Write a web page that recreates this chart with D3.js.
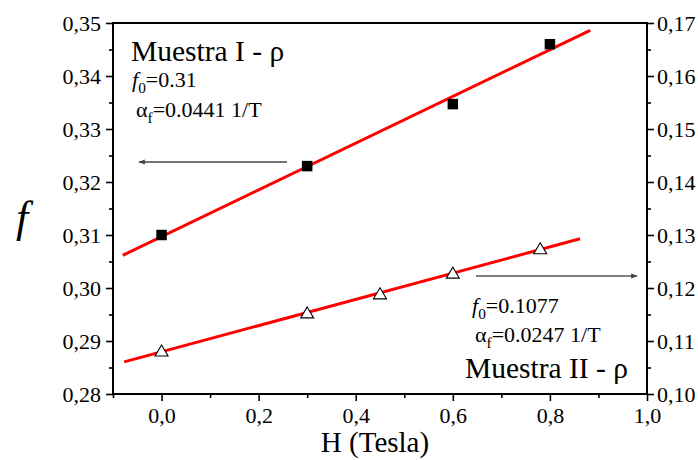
<!DOCTYPE html>
<html><head><meta charset="utf-8">
<script src="https://cdn.jsdelivr.net/npm/d3@7"></script>
<style>body{margin:0;background:#fff}svg{display:block}</style>
</head><body><svg id="c" width="698" height="460"></svg>
<script>
// Data
const H_I = [0, 0.3, 0.6, 0.8];
const f_I = [0.310, 0.323, 0.3347, 0.346];          // left axis (Muestra I)
const H_II = [0, 0.3, 0.45, 0.6, 0.78];
const f_II = [0.1081, 0.1153, 0.1189, 0.1228, 0.1274]; // right axis (Muestra II)
const fitRangeI = [-0.08, 0.883];
const fitRangeII = [-0.077, 0.862];
const xMajor = [0, 0.2, 0.4, 0.6, 0.8, 1.0];
const xMinor = [-0.1, 0.1, 0.3, 0.5, 0.7, 0.9];
const yLeftMajor = [0.28, 0.29, 0.30, 0.31, 0.32, 0.33, 0.34, 0.35];
const yLeftMinor = [0.285, 0.295, 0.305, 0.315, 0.325, 0.335, 0.345];
const yRightMajor = [0.10, 0.11, 0.12, 0.13, 0.14, 0.15, 0.16, 0.17];
const yRightMinor = [0.105, 0.115, 0.125, 0.135, 0.145, 0.155, 0.165];

const FONT = "Liberation Serif, Tinos, serif";
const svg = d3.select("#c").attr("font-family", FONT);
const L = 113, R = 647, T = 23, B = 394;
const x = d3.scaleLinear().domain([-0.1, 1.0]).range([L, R]);
const yL = d3.scaleLinear().domain([0.28, 0.35]).range([B, T]);
const yR = d3.scaleLinear().domain([0.10, 0.17]).range([B, T]);
const comma = (d, p) => d3.format("." + p + "f")(d).replace(".", ",");

function styleAxis(g) {
  g.attr("font-family", FONT).attr("font-size", 22);
  g.selectAll(".domain").remove();
  g.selectAll("line").attr("stroke", "#000").attr("stroke-width", 1.6);
  g.selectAll("text").attr("fill", "#000");
}

// x axis
svg.append("g").attr("transform", `translate(0,${B})`)
  .call(d3.axisBottom(x).tickValues(xMajor).tickSize(7).tickPadding(6).tickFormat(d => comma(d, 1)))
  .call(styleAxis);
svg.append("g").attr("transform", `translate(0,${B})`)
  .call(d3.axisBottom(x).tickValues(xMinor).tickSize(4).tickFormat(""))
  .call(styleAxis);
// left axis
svg.append("g").attr("transform", `translate(${L},0)`)
  .call(d3.axisLeft(yL).tickValues(yLeftMajor).tickSize(7).tickPadding(5).tickFormat(d => comma(d, 2)))
  .call(styleAxis);
svg.append("g").attr("transform", `translate(${L},0)`)
  .call(d3.axisLeft(yL).tickValues(yLeftMinor).tickSize(4).tickFormat(""))
  .call(styleAxis);
// right axis
svg.append("g").attr("transform", `translate(${R},0)`)
  .call(d3.axisRight(yR).tickValues(yRightMajor).tickSize(7).tickPadding(3).tickFormat(d => comma(d, 2)))
  .call(styleAxis);
svg.append("g").attr("transform", `translate(${R},0)`)
  .call(d3.axisRight(yR).tickValues(yRightMinor).tickSize(4).tickFormat(""))
  .call(styleAxis);

// frame
svg.append("rect").attr("x", L).attr("y", T).attr("width", R - L).attr("height", B - T)
  .attr("fill", "none").attr("stroke", "#000").attr("stroke-width", 2);

// linear fits
function fit(xs, ys) {
  const mx = d3.mean(xs), my = d3.mean(ys);
  let sxy = 0, sxx = 0;
  xs.forEach((v, i) => { sxy += (v - mx) * (ys[i] - my); sxx += (v - mx) * (v - mx); });
  const b = sxy / sxx; return { a: my - b * mx, b };
}
const fI = fit(H_I, f_I), fII = fit(H_II, f_II);
const lineL = d3.line().x(d => x(d[0])).y(d => yL(d[1]));
const lineR = d3.line().x(d => x(d[0])).y(d => yR(d[1]));
svg.append("path").attr("d", lineL(fitRangeI.map(h => [h, fI.a + fI.b * h])))
  .attr("stroke", "#ff0000").attr("stroke-width", 3).attr("fill", "none");
svg.append("path").attr("d", lineR(fitRangeII.map(h => [h, fII.a + fII.b * h])))
  .attr("stroke", "#ff0000").attr("stroke-width", 3).attr("fill", "none");

// markers
svg.selectAll(".sq").data(H_I.map((h, i) => [h, f_I[i]])).enter().append("path")
  .attr("transform", d => `translate(${x(d[0])},${yL(d[1])})`)
  .attr("d", d3.symbol(d3.symbolSquare, 110)()).attr("fill", "#000");
svg.selectAll(".tri").data(H_II.map((h, i) => [h, f_II[i]])).enter().append("path")
  .attr("transform", d => `translate(${x(d[0])},${yR(d[1])})`)
  .attr("d", "M0,-6L6.5,5L-6.5,5Z").attr("fill", "#fff").attr("stroke", "#000").attr("stroke-width", 1.1);

// arrows
const defs = svg.append("defs");
defs.append("marker").attr("id", "ah").attr("viewBox", "0 0 10 10").attr("refX", 9).attr("refY", 5)
  .attr("markerWidth", 7).attr("markerHeight", 5).attr("orient", "auto-start-reverse")
  .append("path").attr("d", "M0,1L10,5L0,9Z").attr("fill", "#444");
svg.append("line").attr("x1", 287).attr("x2", 139).attr("y1", 162).attr("y2", 162)
  .attr("stroke", "#444").attr("stroke-width", 1.3).attr("marker-end", "url(#ah)");
svg.append("line").attr("x1", 476).attr("x2", 637).attr("y1", 276).attr("y2", 276)
  .attr("stroke", "#555").attr("stroke-width", 1.3).attr("marker-end", "url(#ah)");

// annotations
function addText(xp, yp, size, parts) {
  const t = svg.append("text").attr("x", xp).attr("y", yp).attr("font-size", size).attr("fill", "#000");
  parts.forEach(p => {
    const s = t.append("tspan").text(p.t);
    if (p.i) s.attr("font-style", "italic");
    if (p.sub) s.attr("dy", 6).attr("font-size", size * 0.7);
    if (p.up) s.attr("dy", -6);
  });
  return t;
}
addText(131, 61, 29.5, [{ t: "Muestra I - ρ" }]);
addText(132, 87, 22, [{ t: "f", i: 1 }, { t: "0", sub: 1 }, { t: "=0.31", up: 1 }]);
addText(136, 117, 22, [{ t: "α" }, { t: "f", sub: 1 }, { t: "=0.0441 1/T", up: 1 }]);
addText(472, 313, 22, [{ t: "f", i: 1 }, { t: "0", sub: 1 }, { t: "=0.1077", up: 1 }]);
addText(475, 342, 22, [{ t: "α" }, { t: "f", sub: 1 }, { t: "=0.0247 1/T", up: 1 }]);
addText(465, 378, 29.5, [{ t: "Muestra II - ρ" }]);

// axis titles
svg.append("text").attr("x", 375).attr("y", 452).attr("text-anchor", "middle").attr("font-size", 29).text("H (Tesla)");
svg.append("text").attr("x", 16).attr("y", 232).attr("font-size", 44).attr("font-style", "italic").text("f");
</script></body></html>
